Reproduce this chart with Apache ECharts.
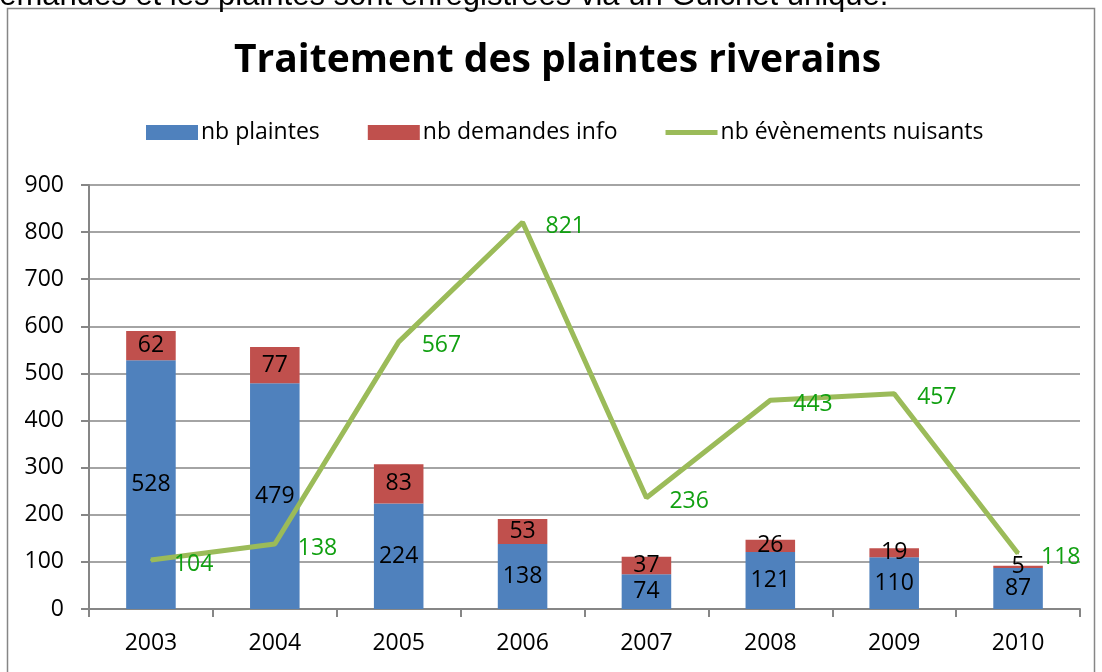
<!DOCTYPE html>
<html>
<head>
<meta charset="utf-8">
<script src="https://cdn.jsdelivr.net/npm/echarts@6/dist/echarts.min.js"></script>
<style>
  html, body { margin: 0; padding: 0; background: #fff; }
  #chart { width: 1102px; height: 672px; }
</style>
</head>
<body>
<div id="chart"></div>
<script>
// données
var annees = ['2003', '2004', '2005', '2006', '2007', '2008', '2009', '2010'];
var nbPlaintes = [528, 479, 224, 138, 74, 121, 110, 87];
var nbDemandesInfo = [62, 77, 83, 53, 37, 26, 19, 5];
var nbEvenements = [104, 138, 567, 821, 236, 443, 457, 118];
var graduationsY = [0, 100, 200, 300, 400, 500, 600, 700, 800, 900];

var police = '"Open Sans", "DejaVu Sans", sans-serif';
var chart = echarts.init(document.getElementById('chart'));

var option = {
  backgroundColor: '#fff',
  animation: false,
  textStyle: { fontFamily: police },
  graphic: [
    {
      type: 'text',
      x: -18,
      y: -19,
      style: {
        text: 'demandes et les plaintes sont enregistrées via un Guichet unique.',
        font: '31px "Liberation Sans", Arial, sans-serif',
        fill: '#000'
      }
    },
    {
      type: 'rect',
      shape: { x: 7.5, y: 8.5, width: 1087, height: 700 },
      style: { fill: 'none', stroke: '#868686', lineWidth: 1.5 },
      z: -1
    }
  ],
  title: {
    text: 'Traitement des plaintes riverains',
    left: 229,
    top: 36,
    textStyle: { fontSize: 39, fontWeight: 'bold', color: '#000', fontFamily: police }
  },
  legend: {
    top: 116,
    left: 141,
    itemGap: 48,
    itemWidth: 52,
    itemHeight: 15,
    textStyle: { fontSize: 23, color: '#000', padding: [0, 0, 0, -2] },
    data: [
      { name: 'nb plaintes', icon: 'rect' },
      { name: 'nb demandes info', icon: 'rect' },
      { name: 'nb évènements nuisants', icon: 'path://M0,0L100,0L100,10L0,10Z', itemStyle: { color: '#9bbb59', opacity: 1 } }
    ]
  },
  grid: { left: 89, right: 22, top: 185, bottom: 63, containLabel: false },
  xAxis: {
    type: 'category',
    data: annees,
    axisLine: { lineStyle: { color: '#868686', width: 2 } },
    axisTick: { show: true, alignWithLabel: false, length: 8, lineStyle: { color: '#868686', width: 2 } },
    axisLabel: { fontSize: 23, color: '#000', margin: 23 }
  },
  yAxis: {
    type: 'value',
    min: graduationsY[0],
    max: graduationsY[graduationsY.length - 1],
    interval: 100,
    axisLine: { show: true, lineStyle: { color: '#868686', width: 2 } },
    axisTick: { show: true, inside: false, length: 8, lineStyle: { color: '#868686', width: 2 } },
    axisLabel: { fontSize: 23, color: '#000', margin: 25 },
    splitLine: { lineStyle: { color: '#868686', width: 1.5 } }
  },
  series: [
    {
      name: 'nb plaintes',
      type: 'bar',
      stack: 'total',
      barWidth: '40%',
      itemStyle: { color: '#4f81bd' },
      label: { show: true, position: 'inside', color: '#000', fontSize: 23 },
      data: nbPlaintes
    },
    {
      name: 'nb demandes info',
      type: 'bar',
      stack: 'total',
      barWidth: '40%',
      itemStyle: { color: '#c0504d' },
      label: { show: true, position: 'inside', color: '#000', fontSize: 23 },
      data: nbDemandesInfo
    },
    {
      name: 'nb évènements nuisants',
      type: 'line',
      symbol: 'circle',
      symbolSize: 2,
      showSymbol: true,
      itemStyle: { color: '#9bbb59' },
      lineStyle: { color: '#9bbb59', width: 5 },
      label: { show: true, position: 'right', distance: 22, color: '#11a011', fontSize: 23, offset: [0, 4] },
      data: nbEvenements,
      z: 3
    }
  ]
};

chart.setOption(option);
</script>
</body>
</html>
